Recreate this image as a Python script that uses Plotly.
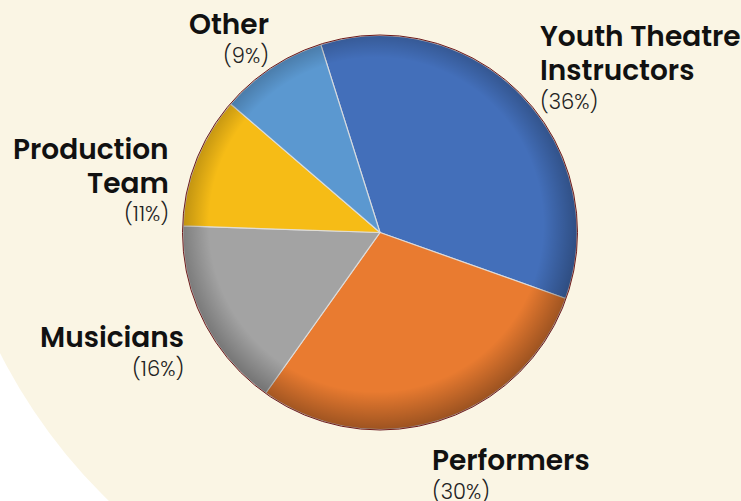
import base64
import plotly.graph_objects as go

# ---------------- data ----------------
categories = ["Youth Theatre Instructors", "Performers", "Musicians", "Production Team", "Other"]
shares = [36, 30, 16, 11, 9]
pct_labels = ["(36%)", "(30%)", "(16%)", "(11%)", "(9%)"]
name_lines = [["Youth Theatre", "Instructors"], ["Performers"], ["Musicians"], ["Production", "Team"], ["Other"]]
slice_colors = ["#436FBA", "#E97B30", "#A3A3A3", "#F6BC16", "#5B98D0"]

# ---------------- layout constants ----------------
W, H = 741, 501
CX, CY, R = 380, 232.5, 197
BG_CX, BG_CY, BG_R = 492, 105, 551
CREAM = "#FAF5E4"

# label placement: (x pixel, alignment, centre y of first line)
label_pos = [(538, "left", 37), (430, "left", 460), (186, "right", 337), (171, "right", 150), (271, "right", 25)]
LINE_GAP = 33
PCT_GAP = 31


def px(x):
    return x / W


def py(y):
    return 1 - y / H


fig = go.Figure()
fig.add_trace(go.Pie(
    labels=categories,
    values=shares,
    sort=False,
    direction="clockwise",
    rotation=-17.5,
    textinfo="none",
    hoverinfo="label+percent",
    marker=dict(colors=slice_colors, line=dict(color="rgba(225,225,225,0.85)", width=1.2)),
    domain=dict(x=[px(CX - R), px(CX + R)], y=[py(CY + R), py(CY - R)]),
    showlegend=False,
))

# ---- decorative svg: drop shadow (below) and rim shading (above)
S = 2 * R + 80
shadow_svg = f"""<svg xmlns='http://www.w3.org/2000/svg' width='{S}' height='{S}' viewBox='0 0 {S} {S}'>
<defs><filter id='b' x='-20%' y='-20%' width='140%' height='140%'><feGaussianBlur stdDeviation='6'/></filter></defs>
<circle cx='{S/2 + 6}' cy='{S/2 + 8}' r='{R}' fill='rgba(40,30,20,0.55)' filter='url(#b)'/>
</svg>"""
rim_svg = f"""<svg xmlns='http://www.w3.org/2000/svg' width='{2*R}' height='{2*R}' viewBox='0 0 {2*R} {2*R}'>
<defs><radialGradient id='g' cx='0.49' cy='0.48' r='0.53'>
<stop offset='0' stop-color='black' stop-opacity='0'/>
<stop offset='0.8' stop-color='black' stop-opacity='0'/>
<stop offset='1' stop-color='black' stop-opacity='0.36'/>
</radialGradient></defs>
<circle cx='{R}' cy='{R}' r='{R}' fill='url(#g)'/>
</svg>"""


def uri(svg):
    return "data:image/svg+xml;base64," + base64.b64encode(svg.encode()).decode()


images = [
    dict(source=uri(shadow_svg), xref="paper", yref="paper", x=px(CX - S / 2), y=py(CY - S / 2),
         sizex=S / W, sizey=S / H, xanchor="left", yanchor="top", sizing="stretch", layer="below"),
    dict(source=uri(rim_svg), xref="paper", yref="paper", x=px(CX - R), y=py(CY - R),
         sizex=2 * R / W, sizey=2 * R / H, xanchor="left", yanchor="top", sizing="stretch", layer="above"),
]

shapes = [
    dict(type="circle", xref="paper", yref="paper", x0=px(BG_CX - BG_R), x1=px(BG_CX + BG_R),
         y0=py(BG_CY + BG_R), y1=py(BG_CY - BG_R), fillcolor=CREAM, line=dict(width=0), layer="below"),
    dict(type="circle", xref="paper", yref="paper", x0=px(CX - R - 0.5), x1=px(CX + R + 0.5),
         y0=py(CY + R + 0.5), y1=py(CY - R - 0.5), line=dict(color="#6E1A1A", width=1), layer="above"),
]

annotations = []
for lines, pct, (lx, align, ly) in zip(name_lines, pct_labels, label_pos):
    y = ly
    for line in lines:
        annotations.append(dict(text=line, x=px(lx), y=py(y), xref="paper", yref="paper",
                                xanchor=align, yanchor="middle", showarrow=False,
                                font=dict(family="Poppins, Open Sans, sans-serif", size=28,
                                          color="#111111", weight=600)))
        y += LINE_GAP
    y = y - LINE_GAP + PCT_GAP
    annotations.append(dict(text=pct, x=px(lx), y=py(y), xref="paper", yref="paper",
                            xanchor=align, yanchor="middle", showarrow=False,
                            font=dict(family="Poppins, Open Sans, sans-serif", size=21,
                                      color="#222222", weight=300)))

fig.update_layout(
    width=W, height=H,
    margin=dict(l=0, r=0, t=0, b=0),
    paper_bgcolor="white",
    plot_bgcolor="white",
    shapes=shapes,
    images=images,
    annotations=annotations,
)

fig.write_html("out.html", config={"displayModeBar": False},
               post_script="document.body.style.margin='0';document.body.style.overflow='hidden';")
